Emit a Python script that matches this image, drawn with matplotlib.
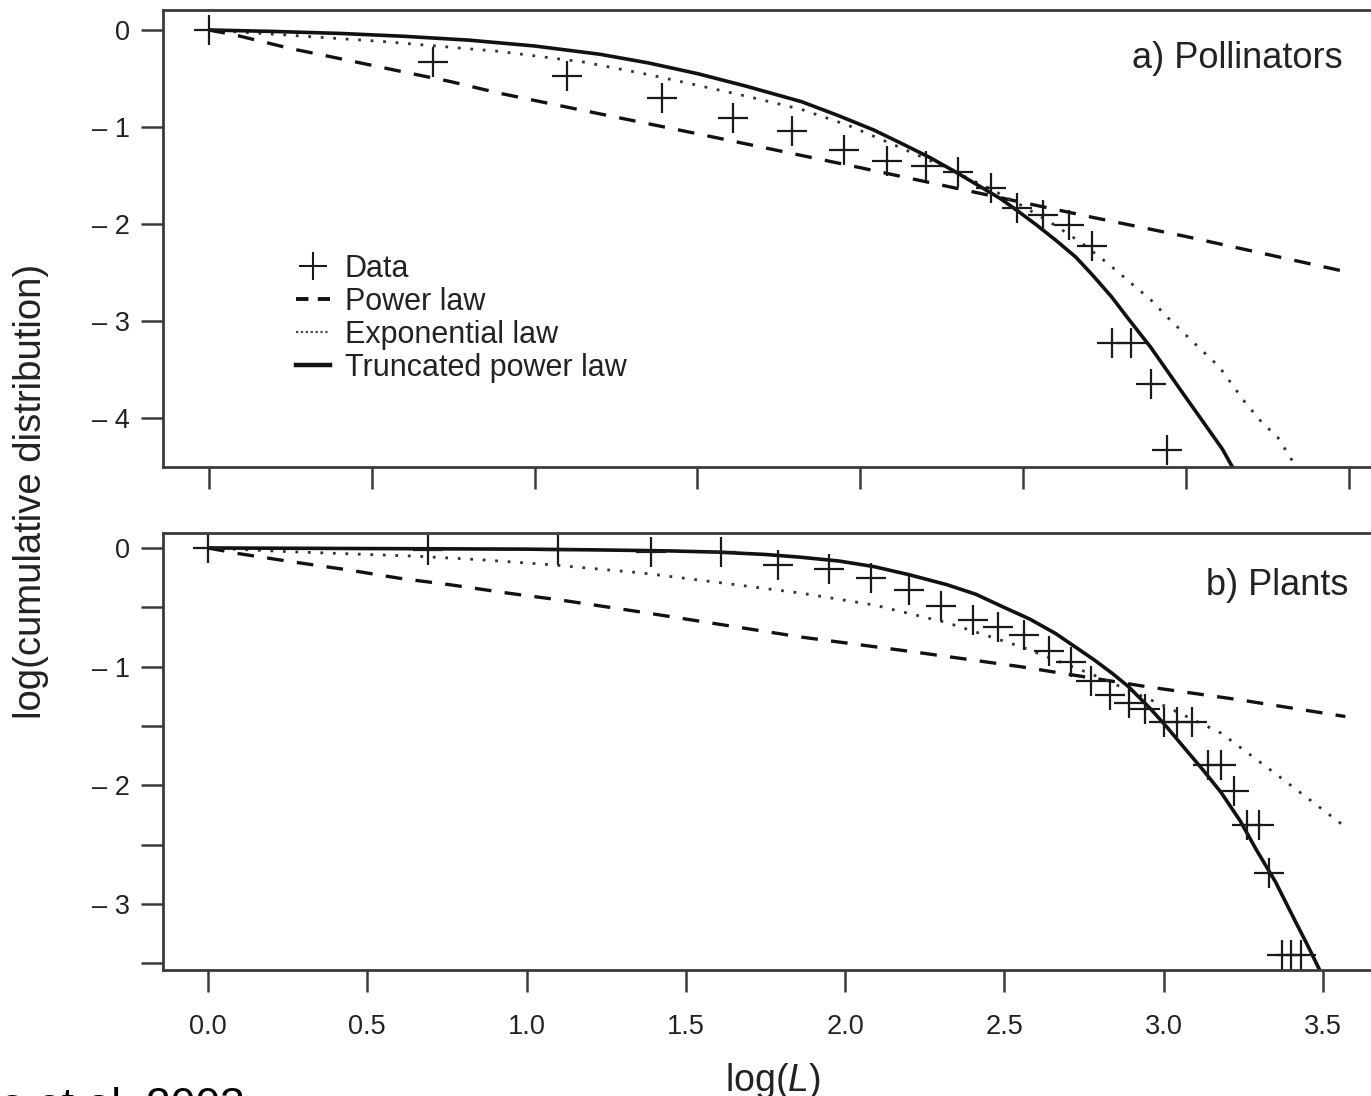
import matplotlib
matplotlib.use("Agg")
import matplotlib.pyplot as plt
from matplotlib.lines import Line2D

plt.rcParams['font.family'] = ['Liberation Sans', 'DejaVu Sans']
plt.rcParams['mathtext.fontset'] = 'custom'
plt.rcParams['mathtext.rm'] = 'Liberation Sans'
plt.rcParams['mathtext.it'] = 'Liberation Sans:italic'

# ---------------- data ----------------
# a) Pollinators
poll_x = [0, 0.69, 1.10, 1.39, 1.61, 1.79, 1.95, 2.08, 2.20, 2.30, 2.40, 2.48, 2.56, 2.64, 2.71, 2.77, 2.83, 2.89, 2.94]
poll_y = [0, -0.33, -0.47, -0.70, -0.91, -1.04, -1.24, -1.35, -1.40, -1.46, -1.63, -1.84, -1.91, -2.01, -2.23, -3.23, -3.23, -3.65, -4.33]

poll_pow_x = [0, 0.08, 0.25, 0.41, 0.58, 0.74, 0.89, 1.15, 1.5, 2.0, 2.5, 2.71, 3.0, 3.5]
poll_pow_y = [0, -0.05, -0.19, -0.30, -0.42, -0.53, -0.65, -0.83, -1.07, -1.42, -1.78, -1.93, -2.13, -2.50]

poll_exp_x = [0, 0.23, 0.54, 0.89, 1.15, 1.35, 1.5, 1.66, 1.82, 1.96, 2.1, 2.25, 2.4, 2.5, 2.6, 2.68, 2.76, 2.83, 2.89,
              2.95, 3.04, 3.10, 3.18, 3.23, 3.28, 3.33, 3.36]
poll_exp_y = [0, -0.05, -0.12, -0.22, -0.33, -0.46, -0.57, -0.69, -0.82, -0.98, -1.18, -1.40, -1.64, -1.82, -2.02, -2.20, -2.41,
              -2.61, -2.78, -2.99, -3.28, -3.47, -3.84, -4.04, -4.20, -4.47, -4.62]

poll_trunc_x = [0, 0.2, 0.4, 0.6, 0.8, 1.0, 1.2, 1.35, 1.5, 1.65, 1.82, 1.93, 2.04, 2.12, 2.21, 2.29, 2.37, 2.43, 2.48,
                2.54, 2.60, 2.66, 2.71, 2.77, 2.82, 2.89, 2.94, 2.99, 3.03, 3.07, 3.11, 3.14, 3.17]
poll_trunc_y = [0, -0.015, -0.035, -0.065, -0.105, -0.165, -0.25, -0.34, -0.45, -0.58, -0.74, -0.88, -1.03, -1.16, -1.31, -1.46,
                -1.62, -1.74, -1.86, -2.01, -2.17, -2.34, -2.52, -2.75, -2.97, -3.27, -3.51, -3.75, -3.94, -4.13, -4.32, -4.50, -4.65]

# b) Plants
plant_x = [0, 0.69, 1.10, 1.39, 1.61, 1.79, 1.95, 2.08, 2.20, 2.30, 2.40, 2.48, 2.56, 2.64, 2.71, 2.77,
           2.83, 2.89, 2.94, 3.00, 3.04, 3.09, 3.14, 3.18, 3.22, 3.26, 3.30, 3.33, 3.37, 3.40, 3.43]
plant_y = [0, -0.02, -0.02, -0.03, -0.03, -0.14, -0.18, -0.25, -0.35, -0.49, -0.61, -0.67, -0.73, -0.87, -0.96, -1.12,
           -1.24, -1.31, -1.36, -1.47, -1.47, -1.47, -1.83, -1.83, -2.05, -2.33, -2.33, -2.74, -3.43, -3.43, -3.43]

plant_pow_x = [0, 0.09, 0.26, 0.44, 0.60, 0.76, 0.94, 1.11, 1.36, 1.86, 2.20, 2.55, 2.95, 3.24, 3.57]
plant_pow_y = [0, -0.045, -0.115, -0.185, -0.255, -0.31, -0.38, -0.44, -0.54, -0.75, -0.87, -1.0, -1.17, -1.28, -1.42]

plant_exp_x = [0, 0.24, 0.66, 0.86, 1.07, 1.36, 1.6, 1.86, 2.09, 2.32, 2.55, 2.78, 3.01, 3.18, 3.35, 3.57]
plant_exp_y = [0, -0.03, -0.07, -0.10, -0.14, -0.21, -0.29, -0.38, -0.48, -0.63, -0.83, -1.07, -1.34, -1.56, -1.90, -2.35]

plant_trunc_x = [0, 0.5, 1.0, 1.24, 1.45, 1.6, 1.75, 1.86, 1.98, 2.09, 2.2, 2.32, 2.41, 2.49, 2.58, 2.66, 2.72, 2.78,
                 2.84, 2.89, 2.96, 3.01, 3.06, 3.12, 3.18, 3.24, 3.29, 3.35, 3.41, 3.45, 3.49, 3.51]
plant_trunc_y = [0, -0.005, -0.01, -0.017, -0.025, -0.035, -0.055, -0.078, -0.11, -0.157, -0.225, -0.31, -0.39, -0.49,
                 -0.60, -0.72, -0.83, -0.94, -1.06, -1.17, -1.36, -1.51, -1.67, -1.86, -2.06, -2.30, -2.54, -2.81, -3.13,
                 -3.34, -3.56, -3.65]

x_ticks = [0.0, 0.5, 1.0, 1.5, 2.0, 2.5, 3.0, 3.5]
x_tick_labels = ["0.0", "0.5", "1.0", "1.5", "2.0", "2.5", "3.0", "3.5"]
top_y_ticks = [0, -1, -2, -3, -4]
top_y_labels = ["0", "\u2013 1", "\u2013 2", "\u2013 3", "\u2013 4"]
bot_y_ticks = [0, -1, -2, -3]
bot_y_labels = ["0", "\u2013 1", "\u2013 2", "\u2013 3"]
bot_y_minor = [-0.5, -1.5, -2.5, -3.5]

legend_labels = ["Data", "Power law", "Exponential law", "Truncated power law"]
panel_a = "a) Pollinators"
panel_b = "b) Plants"

# ---------------- figure ----------------
W, H = 1371, 1096
fig = plt.figure(figsize=(W / 100, H / 100), dpi=100)

def px_rect(left, top, right, bottom):
    return [left / W, 1 - bottom / H, (right - left) / W, (bottom - top) / H]

ax1 = fig.add_axes(px_rect(163, 10, 1380, 467))
ax2 = fig.add_axes(px_rect(163, 533, 1380, 970))

spine_col = '#3a3a3a'
txt_col = '#222222'
dash_style = (0, (5, 4))
dot_style = (0, (1, 3.5))

def style(ax):
    for s in ['left', 'top', 'bottom']:
        ax.spines[s].set_color(spine_col)
        ax.spines[s].set_linewidth(2.0)
    ax.spines['right'].set_visible(False)
    ax.tick_params(axis='both', which='both', direction='out', length=16, width=1.8,
                   color=spine_col, labelsize=19.5, labelcolor=txt_col)
    ax.tick_params(axis='y', pad=8)
    ax.tick_params(axis='x', pad=16)

def draw(ax, dx, dy, px_, py_, ex_, ey_, tx_, ty_):
    ax.plot(px_, py_, color='#111111', lw=2.4, linestyle=dash_style, dash_capstyle='butt', clip_on=True)
    ax.plot(ex_, ey_, color='#333333', lw=2.0, linestyle=dot_style, clip_on=True)
    ax.plot(tx_, ty_, color='#111111', lw=2.6, solid_capstyle='butt', clip_on=True)
    ax.plot(dx, dy, linestyle='none', marker='+', markersize=22, markeredgewidth=1.6,
            color='#1a1a1a', clip_on=False)

# top panel
draw(ax1, poll_x, poll_y, poll_pow_x, poll_pow_y, poll_exp_x, poll_exp_y, poll_trunc_x, poll_trunc_y)
ax1.set_xlim((163 - 208.5) / 326, (1380 - 208.5) / 326)
ax1.set_ylim(-4.505, 0.206)
ax1.set_xticks(x_ticks)
ax1.set_xticklabels([])
ax1.set_yticks(top_y_ticks)
ax1.set_yticklabels(top_y_labels)
style(ax1)
ax1.text(3.48, -0.29, panel_a, ha='right', va='center', fontsize=26, color=txt_col)

handles = [
    Line2D([], [], linestyle='none', marker='+', markersize=20, markeredgewidth=1.5, color='#1a1a1a'),
    Line2D([], [], color='#111111', lw=2.8, linestyle=(0, (3.2, 2.4))),
    Line2D([], [], color='#444444', lw=1.6, linestyle=(0, (1, 1.2))),
    Line2D([], [], color='#111111', lw=3.2),
]
ax1.legend(handles, legend_labels, loc='upper left', bbox_to_anchor=(296 / W, 1 - 254 / H),
           bbox_transform=fig.transFigure, frameon=False, fontsize=22, handlelength=1.1,
           handletextpad=0.5, labelspacing=0.1, borderpad=0, borderaxespad=0,
           labelcolor=txt_col)

# bottom panel
draw(ax2, plant_x, plant_y, plant_pow_x, plant_pow_y, plant_exp_x, plant_exp_y, plant_trunc_x, plant_trunc_y)
ax2.set_xlim((163 - 208) / 318.6, (1380 - 208) / 318.6)
ax2.set_ylim(-3.555, 0.126)
ax2.set_xticks(x_ticks)
ax2.set_xticklabels(x_tick_labels)
ax2.set_yticks(bot_y_ticks)
ax2.set_yticklabels(bot_y_labels)
ax2.set_yticks(bot_y_minor, minor=True)
style(ax2)
ax2.text(3.578, -0.32, panel_b, ha='right', va='center', fontsize=26, color=txt_col)

# axis labels
fig.text(773 / W, 1 - 1091 / H, "log($\\mathit{L}$)", fontsize=27, color=txt_col, ha='center', va='baseline')
fig.text(31 / W, 1 - 491 / H, "log(cumulative distribution)", fontsize=27.5, color=txt_col,
         rotation=90, ha='center', va='center')

# cut-off citation at the bottom
fig.text(245 / W, 1 - 1119 / H, "Jordano et al. 2003", fontsize=32, color='black',
         ha='right', va='baseline')

fig.savefig("out.png", dpi=100)
